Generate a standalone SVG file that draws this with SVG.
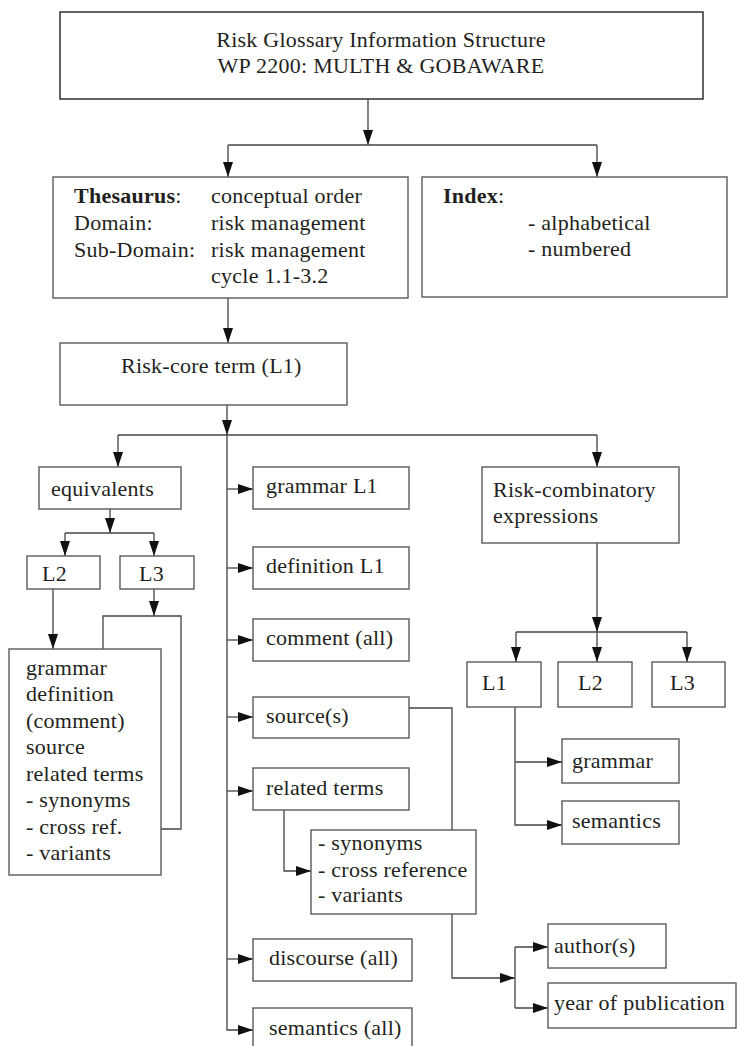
<svg xmlns="http://www.w3.org/2000/svg" width="737" height="1046" viewBox="0 0 737 1046">
<style>
text{font-family:"Liberation Serif","Times New Roman",serif;font-size:22px;fill:#231f20;letter-spacing:0.25px}
.b{font-weight:bold}
rect{fill:#fff;stroke:#5a5a5a;stroke-width:1.4}
rect.dark{stroke:#222}
.c path{fill:none;stroke:#444;stroke-width:1.3}
</style>
<defs>
<marker id="a" markerUnits="userSpaceOnUse" markerWidth="15" markerHeight="10" refX="15" refY="5" orient="auto">
<path d="M0,0 L15,5 L0,10 z" fill="#111"/>
</marker>
</defs>
<g class="c" id="connectors">
<path d="M368,99 V145" marker-end="url(#a)"/>
<path d="M228,145 H597"/>
<path d="M228,145 V177" marker-end="url(#a)"/>
<path d="M597,145 V177" marker-end="url(#a)"/>
<path d="M228,298 V343" marker-end="url(#a)"/>
<path d="M227,405 V435" marker-end="url(#a)"/>
<path d="M118,435 H597"/>
<path d="M118,435 V467" marker-end="url(#a)"/>
<path d="M597,435 V467" marker-end="url(#a)"/>
<path d="M227,435 V1030 H253" marker-end="url(#a)"/>
<path d="M227,489 H253" marker-end="url(#a)"/>
<path d="M227,568 H253" marker-end="url(#a)"/>
<path d="M227,640 H253" marker-end="url(#a)"/>
<path d="M227,717 H253" marker-end="url(#a)"/>
<path d="M227,791 H253" marker-end="url(#a)"/>
<path d="M227,959 H253" marker-end="url(#a)"/>
<path d="M110,509 V533" marker-end="url(#a)"/>
<path d="M65,533 H154"/>
<path d="M65,533 V556" marker-end="url(#a)"/>
<path d="M154,533 V556" marker-end="url(#a)"/>
<path d="M53,589 V649" marker-end="url(#a)"/>
<path d="M154,589 V616" marker-end="url(#a)"/>
<path d="M161,829 H181 V616 H103 V649"/>
<path d="M284,810 V871 H311" marker-end="url(#a)"/>
<path d="M409,708 H452 V978 H515" marker-end="url(#a)"/>
<path d="M515,947 V1008"/>
<path d="M515,947 H548" marker-end="url(#a)"/>
<path d="M515,1008 H548" marker-end="url(#a)"/>
<path d="M597,543 V632" marker-end="url(#a)"/>
<path d="M516,632 H687"/>
<path d="M516,632 V662" marker-end="url(#a)"/>
<path d="M597,632 V662" marker-end="url(#a)"/>
<path d="M687,632 V662" marker-end="url(#a)"/>
<path d="M515,707 V825 H562" marker-end="url(#a)"/>
<path d="M515,762 H562" marker-end="url(#a)"/>
</g>
<g id="title"><rect class="dark" x="60" y="12" width="643" height="87"/>
<text x="381" y="47" text-anchor="middle">Risk Glossary Information Structure</text>
<text x="381" y="73" text-anchor="middle">WP 2200: MULTH &amp; GOBAWARE</text></g>
<g id="thesaurus"><rect x="53" y="177" width="355" height="121"/>
<text x="74" y="203"><tspan class="b">Thesaurus</tspan>:</text><text x="211" y="203">conceptual order</text>
<text x="74" y="230">Domain:</text><text x="211" y="230">risk management</text>
<text x="74" y="257">Sub-Domain:</text><text x="211" y="257">risk management</text>
<text x="211" y="283">cycle 1.1-3.2</text></g>
<g id="index"><rect x="422" y="177" width="305" height="120"/>
<text x="443" y="203"><tspan class="b">Index</tspan>:</text>
<text x="528" y="230">- alphabetical</text>
<text x="528" y="256">- numbered</text></g>
<g id="riskcore"><rect x="60" y="343" width="287" height="62"/>
<text x="121" y="373">Risk-core term (L1)</text></g>
<g id="equivalents"><rect x="39" y="467" width="142" height="42"/>
<text x="51" y="496">equivalents</text></g>
<g id="eqL2"><rect x="27" y="556" width="73" height="33"/><text x="42" y="581">L2</text></g>
<g id="eqL3"><rect x="120" y="556" width="74" height="33"/><text x="139" y="581">L3</text></g>
<g id="eqdetails"><rect x="9" y="649" width="152" height="226"/>
<text x="26" y="675">grammar</text>
<text x="26" y="701">definition</text>
<text x="26" y="728">(comment)</text>
<text x="26" y="754">source</text>
<text x="26" y="781">related terms</text>
<text x="26" y="807">- synonyms</text>
<text x="26" y="834">- cross ref.</text>
<text x="26" y="860">- variants</text></g>
<g id="grammarL1"><rect x="253" y="467" width="156" height="42"/><text x="266" y="493">grammar L1</text></g>
<g id="definitionL1"><rect x="253" y="547" width="156" height="42"/><text x="266" y="573">definition L1</text></g>
<g id="comment"><rect x="253" y="619" width="156" height="42"/><text x="266" y="645">comment (all)</text></g>
<g id="sources"><rect x="253" y="697" width="156" height="41"/><text x="266" y="723">source(s)</text></g>
<g id="related"><rect x="253" y="768" width="156" height="42"/><text x="266" y="795">related terms</text></g>
<g id="synonyms"><rect x="311" y="830" width="165" height="84"/>
<text x="318" y="850">- synonyms</text>
<text x="318" y="877">- cross reference</text>
<text x="318" y="902">- variants</text></g>
<g id="discourse"><rect x="253" y="939" width="159" height="42"/><text x="269" y="965">discourse (all)</text></g>
<g id="semanticsall"><rect x="253" y="1008" width="159" height="42"/><text x="269" y="1035">semantics (all)</text></g>
<g id="riskcomb"><rect x="482" y="467" width="197" height="76"/>
<text x="493" y="497">Risk-combinatory</text>
<text x="493" y="523">expressions</text></g>
<g id="rcL1"><rect x="467" y="662" width="74" height="45"/><text x="482" y="690">L1</text></g>
<g id="rcL2"><rect x="558" y="662" width="74" height="45"/><text x="578" y="690">L2</text></g>
<g id="rcL3"><rect x="652" y="662" width="73" height="45"/><text x="670" y="690">L3</text></g>
<g id="grammar"><rect x="562" y="739" width="117" height="44"/><text x="572" y="768">grammar</text></g>
<g id="semantics"><rect x="562" y="801" width="117" height="43"/><text x="572" y="828">semantics</text></g>
<g id="authors"><rect x="548" y="924" width="118" height="44"/><text x="554" y="953">author(s)</text></g>
<g id="year"><rect x="548" y="983" width="188" height="45"/><text x="554" y="1010">year of publication</text></g>
</svg>
